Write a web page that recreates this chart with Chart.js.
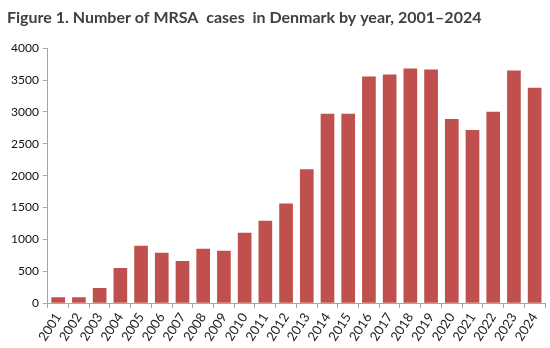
<!DOCTYPE html>
<html>
<head>
<meta charset="utf-8">
<script src="https://cdn.jsdelivr.net/npm/chart.js@4/dist/chart.umd.min.js"></script>
<style>
  html, body { margin: 0; padding: 0; background: #fff; }
  #wrap { width: 550px; height: 348px; position: relative; }
</style>
</head>
<body>
<div id="wrap"><canvas id="c" width="550" height="348"></canvas></div>
<script>
const years = ['2001','2002','2003','2004','2005','2006','2007','2008','2009','2010','2011','2012',
               '2013','2014','2015','2016','2017','2018','2019','2020','2021','2022','2023','2024'];
const cases = [95, 95, 237, 553, 900, 790, 663, 853, 821, 1106, 1295, 1564,
               2101, 2970, 2970, 3555, 3586, 3681, 3665, 2891, 2717, 3002, 3649, 3381];
const yTicks = [0, 500, 1000, 1500, 2000, 2500, 3000, 3500, 4000];

const axisGrey = '#a6a6a6';
const fontFamily = 'Lato, "Open Sans", sans-serif';

new Chart(document.getElementById('c'), {
  type: 'bar',
  data: {
    labels: years,
    datasets: [{
      data: cases,
      backgroundColor: '#c0504d',
      borderWidth: 0,
      categoryPercentage: 1.0,
      barPercentage: 0.66
    }]
  },
  options: {
    responsive: false,
    animation: false,
    layout: { padding: { left: 7, right: 5, top: 0, bottom: 2 } },
    plugins: {
      legend: { display: false },
      tooltip: { enabled: false },
      title: {
        display: true,
        text: 'Figure 1. Number of MRSA  cases  in Denmark by year, 2001\u20132024',
        align: 'start',
        color: '#404040',
        font: { family: fontFamily, size: 16, weight: 'bold' },
        padding: { top: 8, bottom: 21 }
      }
    },
    scales: {
      x: {
        grid: { display: true, drawOnChartArea: false, drawTicks: true, tickLength: 5, color: axisGrey, offset: true },
        border: { display: true, color: axisGrey, width: 1 },
        ticks: { color: '#222', font: { family: fontFamily, size: 13 }, minRotation: 57, maxRotation: 57, autoSkip: false, padding: 2 }
      },
      y: {
        min: 0, max: 4000,
        afterBuildTicks: (axis) => { axis.ticks = yTicks.map(v => ({ value: v })); },
        grid: { display: true, drawOnChartArea: false, drawTicks: true, tickLength: 5, color: axisGrey },
        border: { display: true, color: axisGrey, width: 1 },
        ticks: { color: '#111', font: { family: fontFamily, size: 12 }, padding: 4, callback: (v) => String(v) }
      }
    }
  }
});
</script>
</body>
</html>
